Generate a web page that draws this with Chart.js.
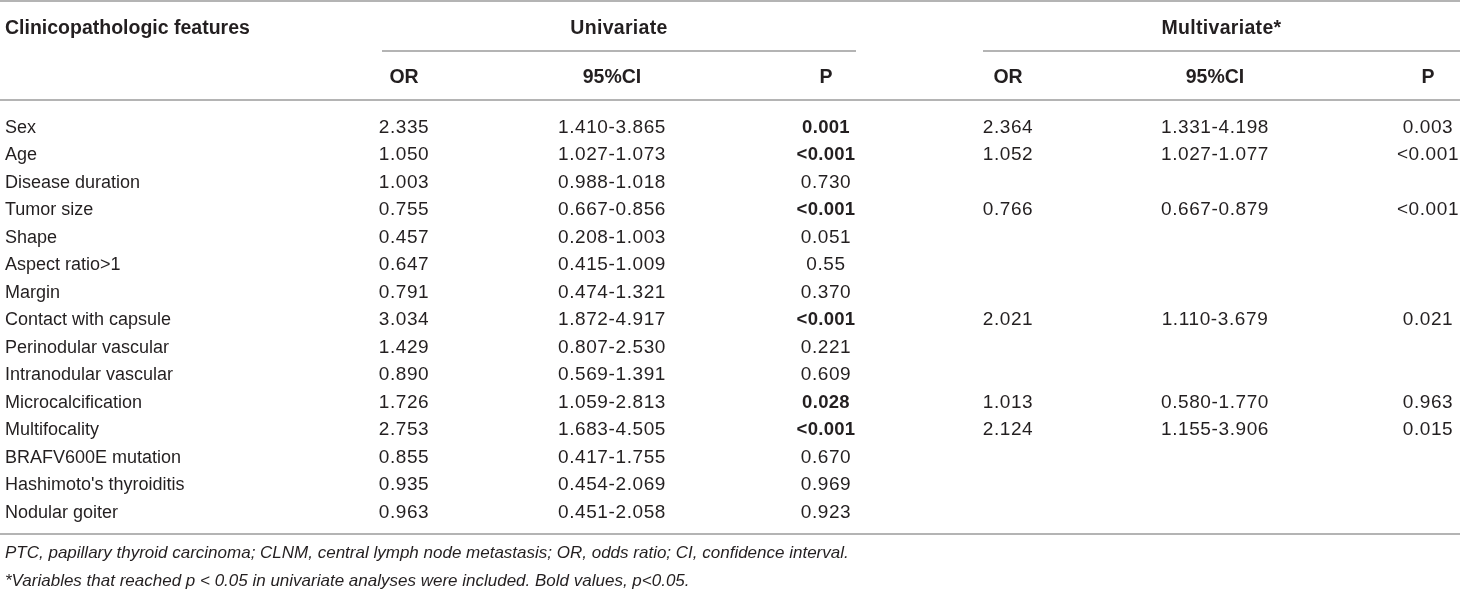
<!DOCTYPE html>
<html>
<head>
<meta charset="utf-8">
<title>Clinicopathologic features</title>
<script src="https://cdn.jsdelivr.net/npm/chart.js@4.4.1/dist/chart.umd.min.js"></script>
<style>
  html, body { margin: 0; padding: 0; background: #fff; }
  #wrap { width: 1460px; height: 591px; position: relative; }
</style>
</head>
<body>
<div id="wrap"><canvas id="tabla"></canvas></div>
<script>
// datos de la tabla
const features = ["Sex", "Age", "Disease duration", "Tumor size", "Shape", "Aspect ratio>1", "Margin",
  "Contact with capsule", "Perinodular vascular", "Intranodular vascular", "Microcalcification",
  "Multifocality", "BRAFV600E mutation", "Hashimoto's thyroiditis", "Nodular goiter"];
const uniOR = ["2.335", "1.050", "1.003", "0.755", "0.457", "0.647", "0.791", "3.034", "1.429", "0.890",
  "1.726", "2.753", "0.855", "0.935", "0.963"];
const uniCI = ["1.410-3.865", "1.027-1.073", "0.988-1.018", "0.667-0.856", "0.208-1.003", "0.415-1.009",
  "0.474-1.321", "1.872-4.917", "0.807-2.530", "0.569-1.391", "1.059-2.813", "1.683-4.505",
  "0.417-1.755", "0.454-2.069", "0.451-2.058"];
const uniP = ["0.001", "<0.001", "0.730", "<0.001", "0.051", "0.55", "0.370", "<0.001", "0.221", "0.609",
  "0.028", "<0.001", "0.670", "0.969", "0.923"];
const multiOR = ["2.364", "1.052", "", "0.766", "", "", "", "2.021", "", "", "1.013", "2.124", "", "", ""];
const multiCI = ["1.331-4.198", "1.027-1.077", "", "0.667-0.879", "", "", "", "1.110-3.679", "", "",
  "0.580-1.770", "1.155-3.906", "", "", ""];
const multiP = ["0.003", "<0.001", "", "<0.001", "", "", "", "0.021", "", "", "0.963", "0.015", "", "", ""];
const headerTitle = "Clinicopathologic features";
const groupHeaders = ["Univariate", "Multivariate*"];
const colHeaders = ["OR", "95%CI", "P"];
const footnotes = [
  "PTC, papillary thyroid carcinoma; CLNM, central lymph node metastasis; OR, odds ratio; CI, confidence interval.",
  "*Variables that reached p < 0.05 in univariate analyses were included. Bold values, p<0.05."
];

// posiciones (unidades de las escalas: x en px, y en filas)
const colX = { feat: 5, uOR: 404, uCI: 612, uP: 826, mOR: 1008, mCI: 1215, mP: 1428 };
const rowY = { group: -3.61, cols: -1.83, foot1: 15.49, foot2: 16.49 };
const lineY = { top: -4.61, sub: -2.8, head: -0.99, bottom: 14.78 };
const groupSpan = [[382, 856], [983, 1460]];

const txtColor = "#231f20";
const lineColor = "#b4b4b4";
const fam = "'Liberation Sans', Arial, sans-serif";

function isBold(p) {
  return p.startsWith("<") || parseFloat(p) < 0.05;
}

function colDataset(key, texts, boldFn) {
  return {
    label: key,
    data: texts.map((t, i) => ({ x: colX[key], y: i })),
    texts: texts,
    boldFn: boldFn,
    numeric: key !== "feat",
    pointRadius: 0,
    pointHoverRadius: 0,
    showLine: false
  };
}

const tablePlugin = {
  id: "tablePlugin",
  afterDatasetsDraw(chart) {
    const c = chart.ctx;
    const xs = chart.scales.x;
    const ys = chart.scales.y;
    c.save();

    // lineas
    c.strokeStyle = lineColor;
    c.lineWidth = 2;
    const hline = (y, x0, x1) => {
      const py = Math.round(ys.getPixelForValue(y));
      c.beginPath();
      c.moveTo(xs.getPixelForValue(x0), py);
      c.lineTo(xs.getPixelForValue(x1), py);
      c.stroke();
    };
    hline(lineY.top, 0, 1460);
    hline(lineY.head, 0, 1460);
    hline(lineY.bottom, 0, 1460);
    groupSpan.forEach(s => hline(lineY.sub, s[0], s[1]));

    c.fillStyle = txtColor;
    c.textBaseline = "middle";

    // encabezados
    c.font = "bold 19.5px " + fam;
    c.textAlign = "left";
    c.fillText(headerTitle, xs.getPixelForValue(colX.feat), ys.getPixelForValue(rowY.group));
    c.textAlign = "center";
    groupHeaders.forEach((g, i) => {
      const mid = (xs.getPixelForValue(groupSpan[i][0]) + xs.getPixelForValue(groupSpan[i][1])) / 2;
      c.letterSpacing = "0.3px";
      c.fillText(g, mid, ys.getPixelForValue(rowY.group));
    });
    c.letterSpacing = "0px";
    ["uOR", "uCI", "uP", "mOR", "mCI", "mP"].forEach((k, i) => {
      c.fillText(colHeaders[i % 3], xs.getPixelForValue(colX[k]), ys.getPixelForValue(rowY.cols));
    });

    // celdas
    chart.data.datasets.forEach((ds, di) => {
      const meta = chart.getDatasetMeta(di);
      c.textAlign = ds.numeric ? "center" : "left";
      meta.data.forEach((pt, i) => {
        const t = ds.texts[i];
        if (!t) return;
        if (!ds.numeric) {
          c.font = "18px " + fam;
          c.letterSpacing = "0px";
        } else if (ds.boldFn && ds.boldFn(t)) {
          c.font = "bold 18.5px " + fam;
          c.letterSpacing = "0.3px";
        } else {
          c.font = "19px " + fam;
          c.letterSpacing = "0.6px";
        }
        c.fillText(t, pt.x, pt.y);
      });
    });
    c.letterSpacing = "0px";

    // notas
    c.font = "italic 17px " + fam;
    c.textAlign = "left";
    c.fillText(footnotes[0], xs.getPixelForValue(colX.feat), ys.getPixelForValue(rowY.foot1));
    c.fillText(footnotes[1], xs.getPixelForValue(colX.feat), ys.getPixelForValue(rowY.foot2));
    c.restore();
  }
};

new Chart(document.getElementById("tabla"), {
  type: "scatter",
  data: {
    datasets: [
      colDataset("feat", features),
      colDataset("uOR", uniOR),
      colDataset("uCI", uniCI),
      colDataset("uP", uniP, isBold),
      colDataset("mOR", multiOR),
      colDataset("mCI", multiCI),
      colDataset("mP", multiP)
    ]
  },
  options: {
    responsive: true,
    maintainAspectRatio: false,
    animation: false,
    layout: { padding: 0 },
    plugins: { legend: { display: false }, tooltip: { enabled: false } },
    events: [],
    scales: {
      x: { type: "linear", min: 0, max: 1460, display: false },
      y: { type: "linear", min: -4.645, max: 16.853, reverse: true, display: false }
    }
  },
  plugins: [tablePlugin]
});
</script>
</body>
</html>
